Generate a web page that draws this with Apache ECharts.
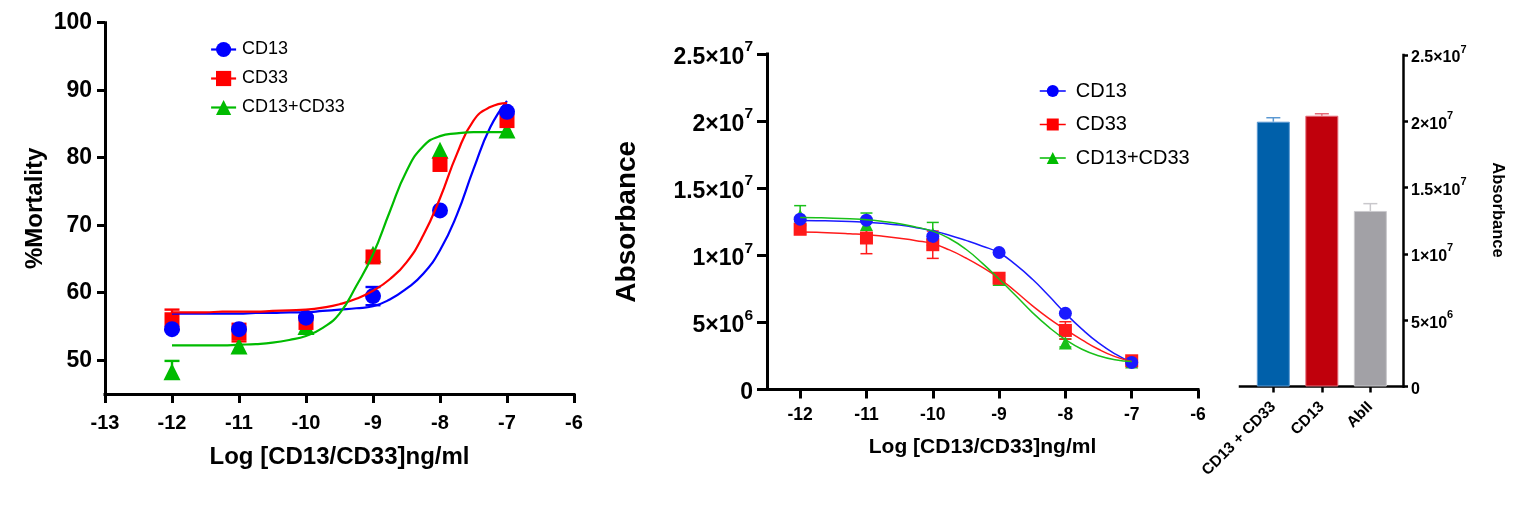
<!DOCTYPE html>
<html><head><meta charset="utf-8">
<script src="https://cdn.jsdelivr.net/npm/echarts@6/dist/echarts.min.js"></script>
<style>html,body{margin:0;padding:0;background:#fff}#c{width:1536px;height:507px}</style>
</head><body><div id="c"></div>
<script>
const FONT = "'Liberation Sans', Arial, Helvetica, sans-serif";
const seriesNames = ['CD13', 'CD33', 'CD13+CD33'];

// ---------- Left panel: % mortality ----------
const logDose = [-12, -11, -10, -9, -8, -7];
const mortCD13 = [54.6, 54.6, 56.3, 59.5, 72.2, 86.8];
const mortCD13ErrUp = [0, 0, 0, 1.35, 0, 0];
const mortCD13ErrDn = [0, 0, 0, 1.35, 0, 0];
const mortCD33 = [56.0, 54.1, 55.6, 65.3, 79.0, 85.5];
const mortCD33ErrUp = [1.5, 1.3, 0, 0, 0, 0];
const mortCD33ErrDn = [1.5, 1.3, 0, 0, 0, 0];
const mortCombo = [48.3, 52.1, 55.0, 65.7, 81.1, 84.1];
const mortComboErrUp = [1.6, 0, 0, 0, 0, 0];
const mortComboErrDn = [0, 0, 0, 0, 0, 0];
// fitted curves, every 0.25 log unit
const fitX = [-12, -11.75, -11.5, -11.25, -11, -10.75, -10.5, -10.25, -10, -9.75, -9.5, -9.25, -9, -8.75, -8.5, -8.25, -8, -7.75, -7.5, -7.25, -7];
const fitCD13Left = [56.9, 56.9, 56.9, 56.9, 56.9, 57.0, 57.0, 57.1, 57.1, 57.3, 57.5, 57.7, 58.0, 59.0, 60.6, 62.8, 66.3, 71.5, 78.3, 84.5, 88.4];
const fitCD33Left = [57.1, 57.1, 57.1, 57.2, 57.2, 57.2, 57.3, 57.4, 57.5, 57.8, 58.3, 59.1, 60.3, 62.0, 64.5, 68.5, 74.0, 80.5, 85.5, 87.5, 88.1];
const fitComboLeft = [52.2, 52.2, 52.2, 52.2, 52.3, 52.4, 52.6, 53.0, 53.6, 54.8, 56.9, 61.0, 65.7, 72.0, 78.0, 81.7, 83.2, 83.6, 83.8, 83.8, 83.8];
const leftXTicks = [-13, -12, -11, -10, -9, -8, -7, -6];
const leftYTicks = [50, 60, 70, 80, 90, 100];

// ---------- Middle panel: absorbance ----------
const absCD13 = [12.69e6, 12.62e6, 11.41e6, 10.21e6, 5.68e6, 2.02e6];
const absCD13Err = [0, 0, 0, 0, 0, 0];
const absCD33 = [11.94e6, 11.29e6, 10.79e6, 8.29e6, 4.40e6, 2.14e6];
const absCD33Err = [0.35e6, 1.17e6, 1.02e6, 0.2e6, 0.65e6, 0.2e6];
const absCombo = [12.95e6, 12.3e6, 11.6e6, 8.2e6, 3.47e6, 2.05e6];
const absComboErr = [0.75e6, 0.85e6, 0.85e6, 0, 0.3e6, 0];
const fitCD13Mid = [12.60e6, 12.58e6, 12.55e6, 12.51e6, 12.47e6, 12.38e6, 12.25e6, 12.06e6, 11.82e6, 11.50e6, 11.11e6, 10.68e6, 10.19e6, 9.30e6, 8.23e6, 6.98e6, 5.68e6, 4.50e6, 3.47e6, 2.65e6, 2.02e6];
const fitCD33Mid = [11.74e6, 11.71e6, 11.67e6, 11.61e6, 11.54e6, 11.42e6, 11.27e6, 11.09e6, 10.86e6, 10.40e6, 9.80e6, 9.10e6, 8.29e6, 7.30e6, 6.25e6, 5.30e6, 4.47e6, 3.70e6, 3.00e6, 2.45e6, 2.09e6];
const fitComboMid = [12.82e6, 12.80e6, 12.77e6, 12.72e6, 12.65e6, 12.52e6, 12.35e6, 12.10e6, 11.80e6, 11.25e6, 10.45e6, 9.40e6, 8.23e6, 7.00e6, 5.75e6, 4.65e6, 3.72e6, 3.00e6, 2.52e6, 2.22e6, 2.09e6];
const midXTicks = [-12, -11, -10, -9, -8, -7, -6];
const absTicks = [0, 5e6, 10e6, 15e6, 20e6, 25e6];
const absTickMant = ['0', '5', '1', '1.5', '2', '2.5'];
const absTickExp = ['', '6', '7', '7', '7', '7'];

// ---------- Right panel: bars ----------
const barCats = ['CD13 + CD33', 'CD13', 'AbII'];
const barVals = [19.97e6, 20.42e6, 13.24e6];
const barErr = [0.30e6, 0.15e6, 0.55e6];

const COL = { blue: '#0000FF', red: '#FF0000', green: '#00BB00' };
const COLM = { blue: '#1A1AFF', red: '#FF1A1A', green: '#19C019' };
const barFill = ['#0060AA', '#C0000C', '#A2A1A6'];
const barEdge = ['#5A98D2', '#E46A78', '#C9C8CC'];

function pairs(xs, ys) { return xs.map((x, i) => [x, ys[i]]); }
function errData(xs, ys, up, dn) { return xs.map((x, i) => [x, ys[i], up[i], dn ? dn[i] : up[i]]); }
function sciLabel(v) {
  const i = absTicks.findIndex(t => Math.abs(t - v) < 1);
  if (i < 0) return '';
  if (!absTickExp[i]) return '{b|' + absTickMant[i] + '}';
  return '{b|' + absTickMant[i] + '×10}{s|' + absTickExp[i] + '}';
}
function errRender(capHalf, lw, color) {
  return function (params, api) {
    const x = api.value(0), c = api.value(1), up = api.value(2), dn = api.value(3);
    const children = [];
    const style = { stroke: color, lineWidth: lw, fill: null };
    if (up > 0) {
      const p0 = api.coord([x, c]), p1 = api.coord([x, c + up]);
      children.push({ type: 'line', shape: { x1: p0[0], y1: p0[1], x2: p1[0], y2: p1[1] }, style });
      children.push({ type: 'line', shape: { x1: p1[0] - capHalf, y1: p1[1], x2: p1[0] + capHalf, y2: p1[1] }, style });
    }
    if (dn > 0) {
      const p0 = api.coord([x, c]), p1 = api.coord([x, c - dn]);
      children.push({ type: 'line', shape: { x1: p0[0], y1: p0[1], x2: p1[0], y2: p1[1] }, style });
      children.push({ type: 'line', shape: { x1: p1[0] - capHalf, y1: p1[1], x2: p1[0] + capHalf, y2: p1[1] }, style });
    }
    return { type: 'group', children };
  };
}

const axisLineStyle = w => ({ show: true, onZero: false, lineStyle: { color: '#000', width: w, cap: 'square' } });
const tickStyle = (len, w) => ({ show: true, length: len, lineStyle: { color: '#000', width: w } });
const boldText = size => ({ fontFamily: FONT, fontSize: size, fontWeight: 'bold', color: '#000' });

const symbols = ['circle', 'rect', 'triangle'];
const colsL = [COL.blue, COL.red, COL.green];
const colsM = [COLM.blue, COLM.red, COLM.green];
const fitsL = [fitCD13Left, fitCD33Left, fitComboLeft];
const fitsM = [fitCD13Mid, fitCD33Mid, fitComboMid];

const series = [];
fitsL.forEach((f, i) => series.push({
  type: 'line', name: seriesNames[i], xAxisIndex: 0, yAxisIndex: 0,
  data: pairs(fitX, f), smooth: 0.5,
  symbol: symbols[i], showSymbol: false, silent: true,
  lineStyle: { color: colsL[i], width: 2.2 }, itemStyle: { color: colsL[i] }
}));
fitsM.forEach((f, i) => series.push({
  type: 'line', name: seriesNames[i], xAxisIndex: 1, yAxisIndex: 1,
  data: pairs(fitX, f), smooth: 0.5,
  symbol: symbols[i], showSymbol: false, silent: true,
  lineStyle: { color: colsM[i], width: 1.5 }, itemStyle: { color: colsM[i] }
}));
[[mortCombo, mortComboErrUp, mortComboErrDn, 2], [mortCD33, mortCD33ErrUp, mortCD33ErrDn, 1], [mortCD13, mortCD13ErrUp, mortCD13ErrDn, 0]].forEach(([v, u, d, k]) => series.push({
  type: 'custom', name: 'errL' + k, xAxisIndex: 0, yAxisIndex: 0, silent: true,
  renderItem: errRender(7.5, 2.4, colsL[k]), data: errData(logDose, v, u, d)
}));
[[mortCombo, 2, 17], [mortCD33, 1, 15], [mortCD13, 0, 16]].forEach(([v, k, s]) => series.push({
  type: 'scatter', name: seriesNames[k], xAxisIndex: 0, yAxisIndex: 0, silent: true,
  symbol: symbols[k], symbolSize: s, data: pairs(logDose, v), itemStyle: { color: colsL[k], opacity: 1 }
}));
[[absCombo, absComboErr, 2], [absCD33, absCD33Err, 1], [absCD13, absCD13Err, 0]].forEach(([v, e, k]) => series.push({
  type: 'custom', name: 'errM' + k, xAxisIndex: 1, yAxisIndex: 1, silent: true,
  renderItem: errRender(6, 1.5, colsM[k]), data: errData(logDose, v, e)
}));
[[absCombo, 2, 13], [absCD33, 1, 13], [absCD13, 0, 13]].forEach(([v, k, s]) => series.push({
  type: 'scatter', name: seriesNames[k], xAxisIndex: 1, yAxisIndex: 1, silent: true,
  symbol: symbols[k], symbolSize: s, data: pairs(logDose, v), itemStyle: { color: colsM[k], opacity: 1 }
}));
series.push({
  type: 'bar', name: 'bars', xAxisIndex: 2, yAxisIndex: 2, barWidth: 33, silent: true,
  data: barVals.map((v, i) => ({ value: [i, v], itemStyle: { color: barFill[i], borderColor: barEdge[i], borderWidth: 1 } }))
});
barVals.forEach((v, i) => series.push({
  type: 'custom', name: 'errB' + i, xAxisIndex: 2, yAxisIndex: 2, silent: true,
  renderItem: errRender(7, 1.5, barEdge[i]), data: [[i, v, barErr[i], 0]]
}));

const option = {
  animation: false,
  backgroundColor: '#fff',
  textStyle: { fontFamily: FONT },
  grid: [
    { left: 105, top: 22.7, width: 469, height: 371.3, outerBoundsMode: 'none' },
    { left: 767, top: 54, width: 431, height: 335.5, outerBoundsMode: 'none' },
    { left: 1240, top: 55, width: 163, height: 331.5, outerBoundsMode: 'none' }
  ],
  legend: [
    { orient: 'vertical', left: 205, top: 35.5, itemWidth: 25, itemHeight: 19, itemGap: 11,
      data: seriesNames, selectedMode: false, lineStyle: { width: 2.2 },
      textStyle: { fontFamily: FONT, fontSize: 18, color: '#000', padding: [0, 0, 0, 1] } },
    { orient: 'vertical', left: 1034, top: 76, itemWidth: 26, itemHeight: 15, itemGap: 13.5,
      data: seriesNames, selectedMode: false, lineStyle: { width: 1.5 },
      textStyle: { fontFamily: FONT, fontSize: 20, color: '#000', padding: [0, 0, 0, 5] } }
  ],
  graphic: [
    { type: 'text', x: 1498, y: 210, rotation: -Math.PI / 2, silent: true,
      style: { text: 'Absorbance', align: 'center', verticalAlign: 'middle', font: "bold 16.5px 'Liberation Sans', Arial, sans-serif", fill: '#000' } }
  ],
  xAxis: [
    { type: 'value', gridIndex: 0, min: -13, max: -6, interval: 1,
      axisLine: axisLineStyle(3), axisTick: tickStyle(9, 3), splitLine: { show: false },
      axisLabel: Object.assign(boldText(20), { margin: 19, showMinLabel: true, showMaxLabel: true, formatter: v => String(leftXTicks[leftXTicks.indexOf(v)]) }),
      name: 'Log [CD13/CD33]ng/ml', nameLocation: 'middle', nameGap: 51, nameTextStyle: boldText(24) },
    { type: 'value', gridIndex: 1, min: -12.5, max: -6,
      axisLine: axisLineStyle(3), axisTick: Object.assign(tickStyle(9, 3), { customValues: midXTicks }), splitLine: { show: false },
      axisLabel: Object.assign(boldText(17.5), { margin: 17, customValues: midXTicks, formatter: v => String(v) }),
      name: 'Log [CD13/CD33]ng/ml', nameLocation: 'middle', nameGap: 47, nameTextStyle: boldText(21) },
    { type: 'value', gridIndex: 2, min: -0.687, max: 2.673,
      axisLine: axisLineStyle(2.5), axisTick: Object.assign(tickStyle(6, 2.5), { customValues: [0, 1, 2] }), splitLine: { show: false },
      axisLabel: Object.assign(boldText(15.5), { margin: 18, rotate: 45, customValues: [0, 1, 2], formatter: v => barCats[Math.round(v)] }) }
  ],
  yAxis: [
    { type: 'value', gridIndex: 0, min: 45, max: 100,
      axisLine: axisLineStyle(3), axisTick: Object.assign(tickStyle(8, 3), { customValues: leftYTicks }), splitLine: { show: false },
      axisLabel: Object.assign(boldText(23), { margin: 13, customValues: leftYTicks }),
      name: '%Mortality', nameLocation: 'middle', nameGap: 58, nameTextStyle: boldText(24) },
    { type: 'value', gridIndex: 1, min: 0, max: 25e6, interval: 5e6,
      axisLine: axisLineStyle(3), axisTick: tickStyle(10, 3), splitLine: { show: false },
      axisLabel: { margin: 14, formatter: sciLabel, rich: {
        b: Object.assign(boldText(23), { lineHeight: 30, verticalAlign: 'bottom' }),
        s: Object.assign(boldText(15.5), { lineHeight: 30, verticalAlign: 'top' }) } },
      name: 'Absorbance', nameLocation: 'middle', nameGap: 126, nameTextStyle: boldText(28) },
    { type: 'value', gridIndex: 2, position: 'right', min: 0, max: 25e6, interval: 5e6,
      axisLine: axisLineStyle(2.5), axisTick: tickStyle(5, 2.5), splitLine: { show: false },
      axisLabel: { margin: 8, formatter: sciLabel, rich: {
        b: Object.assign(boldText(16), { lineHeight: 22, verticalAlign: 'bottom' }),
        s: Object.assign(boldText(11), { lineHeight: 22, verticalAlign: 'top' }) } } }
  ],
  series
};
const chart = echarts.init(document.getElementById('c'), null, { renderer: 'canvas' });
chart.setOption(option);
</script>
</body></html>
